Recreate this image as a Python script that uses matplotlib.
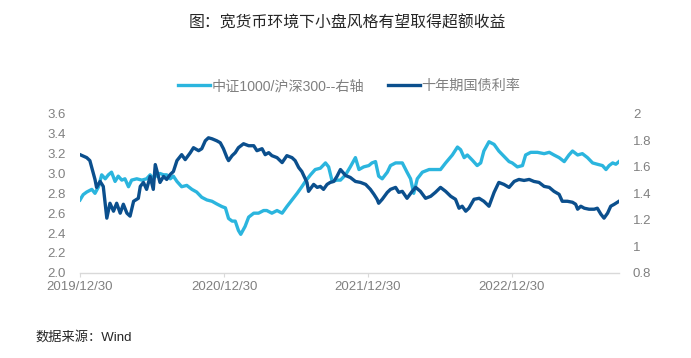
import pandas as pd
import matplotlib
matplotlib.use("Agg")
import matplotlib.pyplot as plt

plt.rcParams['font.family'] = ['Liberation Sans', 'Noto Sans CJK SC', 'DejaVu Sans']

# 十年期国债利率 (left axis, %)
bond_dates = [
    "2019-12-30", "2020-01-16", "2020-01-24", "2020-02-06", "2020-02-10", "2020-02-19",
    "2020-02-27", "2020-03-07", "2020-03-15", "2020-03-24", "2020-04-01", "2020-04-10",
    "2020-04-18", "2020-04-27", "2020-05-05", "2020-05-14", "2020-05-26", "2020-05-31",
    "2020-06-08", "2020-06-16", "2020-06-25", "2020-07-03", "2020-07-08", "2020-07-20",
    "2020-07-29", "2020-08-06", "2020-08-15", "2020-08-23", "2020-09-01", "2020-09-13",
    "2020-09-22", "2020-10-05", "2020-10-13", "2020-10-26", "2020-11-03", "2020-11-12",
    "2020-11-20", "2020-11-29", "2020-12-11", "2020-12-20", "2020-12-28", "2021-01-06",
    "2021-01-10", "2021-01-19", "2021-01-27", "2021-02-04", "2021-02-17", "2021-03-02",
    "2021-03-15", "2021-03-23", "2021-04-05", "2021-04-13", "2021-04-22", "2021-04-30",
    "2021-05-13", "2021-05-26", "2021-06-07", "2021-06-20", "2021-06-28", "2021-07-07",
    "2021-07-15", "2021-07-28", "2021-08-01", "2021-08-14", "2021-08-23", "2021-08-31",
    "2021-09-08", "2021-09-17", "2021-09-25", "2021-10-04", "2021-10-12", "2021-10-21",
    "2021-11-03", "2021-11-15", "2021-11-28", "2021-12-11", "2021-12-24", "2022-01-05",
    "2022-01-14", "2022-01-22", "2022-01-26", "2022-02-04", "2022-02-17", "2022-02-25",
    "2022-03-10", "2022-03-18", "2022-03-27", "2022-04-08", "2022-04-21", "2022-04-30",
    "2022-05-12", "2022-05-25", "2022-06-07", "2022-06-19", "2022-07-02", "2022-07-15",
    "2022-07-28", "2022-08-09", "2022-08-18", "2022-08-26", "2022-09-04", "2022-09-12",
    "2022-09-25", "2022-10-08", "2022-10-20", "2022-11-02", "2022-11-15", "2022-11-27",
    "2022-12-10", "2022-12-23", "2023-01-05", "2023-01-17", "2023-01-30", "2023-02-12",
    "2023-02-24", "2023-03-09", "2023-03-22", "2023-04-04", "2023-04-16", "2023-04-29",
    "2023-05-07", "2023-05-20", "2023-06-02", "2023-06-10", "2023-06-15", "2023-06-23",
    "2023-07-02", "2023-07-14", "2023-07-27", "2023-08-04", "2023-08-13", "2023-08-21",
    "2023-08-30", "2023-09-07", "2023-09-16", "2023-09-28",
]
bond_yield = [
    3.19, 3.16, 3.13, 2.94, 2.86, 2.92,
    2.87, 2.55, 2.70, 2.62, 2.70, 2.60,
    2.69, 2.60, 2.57, 2.72, 2.75, 2.87,
    2.91, 2.84, 2.97, 2.84, 3.09, 2.91,
    2.97, 2.94, 2.99, 3.02, 3.13, 3.19,
    3.14, 3.21, 3.26, 3.23, 3.25, 3.33,
    3.36, 3.35, 3.33, 3.31, 3.25, 3.16,
    3.13, 3.18, 3.21, 3.26, 3.30, 3.28,
    3.28, 3.23, 3.25, 3.19, 3.21, 3.18,
    3.16, 3.11, 3.18, 3.16, 3.13, 3.06,
    3.02, 2.91, 2.82, 2.89, 2.86, 2.87,
    2.84, 2.89, 2.91, 2.92, 2.97, 3.04,
    2.98, 2.96, 2.92, 2.91, 2.89, 2.84,
    2.79, 2.74, 2.70, 2.74, 2.81, 2.84,
    2.86, 2.81, 2.82, 2.75, 2.82, 2.86,
    2.82, 2.75, 2.77, 2.81, 2.86, 2.82,
    2.77, 2.74, 2.65, 2.67, 2.62, 2.65,
    2.74, 2.75, 2.72, 2.67, 2.81, 2.91,
    2.89, 2.86, 2.92, 2.94, 2.93, 2.94,
    2.92, 2.91, 2.87, 2.86, 2.82, 2.79,
    2.72, 2.72, 2.71, 2.69, 2.64, 2.67,
    2.65, 2.64, 2.64, 2.65, 2.59, 2.55,
    2.60, 2.67, 2.69, 2.72,
]

# 中证1000/沪深300 (right axis)
ratio_dates = [
    "2019-12-30", "2020-01-07", "2020-01-16", "2020-01-29", "2020-02-06", "2020-02-15",
    "2020-02-23", "2020-03-03", "2020-03-11", "2020-03-19", "2020-03-28", "2020-04-05",
    "2020-04-14", "2020-04-22", "2020-05-01", "2020-05-09", "2020-05-22", "2020-06-04",
    "2020-06-16", "2020-06-25", "2020-07-03", "2020-07-12", "2020-07-20", "2020-07-29",
    "2020-08-06", "2020-08-15", "2020-08-23", "2020-09-01", "2020-09-13", "2020-09-26",
    "2020-10-09", "2020-10-21", "2020-11-03", "2020-11-16", "2020-11-29", "2020-12-11",
    "2020-12-24", "2021-01-02", "2021-01-10", "2021-01-19", "2021-01-27", "2021-02-04",
    "2021-02-10", "2021-02-21", "2021-03-02", "2021-03-15", "2021-03-27", "2021-04-09",
    "2021-04-17", "2021-04-30", "2021-05-13", "2021-05-26", "2021-06-07", "2021-06-20",
    "2021-07-03", "2021-07-15", "2021-07-24", "2021-08-06", "2021-08-18", "2021-08-31",
    "2021-09-13", "2021-09-21", "2021-09-30", "2021-10-12", "2021-10-21", "2021-11-03",
    "2021-11-15", "2021-11-28", "2021-12-07", "2021-12-19", "2022-01-01", "2022-01-09",
    "2022-01-18", "2022-01-26", "2022-02-04", "2022-02-17", "2022-02-25", "2022-03-10",
    "2022-03-27", "2022-04-08", "2022-04-17", "2022-04-25", "2022-05-04", "2022-05-17",
    "2022-06-03", "2022-06-19", "2022-07-02", "2022-07-15", "2022-08-01", "2022-08-14",
    "2022-08-22", "2022-08-31", "2022-09-08", "2022-09-21", "2022-10-03", "2022-10-12",
    "2022-10-20", "2022-11-02", "2022-11-15", "2022-11-27", "2022-12-10", "2022-12-23",
    "2022-12-31", "2023-01-13", "2023-01-26", "2023-02-03", "2023-02-16", "2023-03-05",
    "2023-03-22", "2023-04-04", "2023-04-16", "2023-04-29", "2023-05-12", "2023-05-24",
    "2023-06-02", "2023-06-15", "2023-06-27", "2023-07-10", "2023-07-23", "2023-08-04",
    "2023-08-17", "2023-08-26", "2023-09-03", "2023-09-12", "2023-09-20", "2023-09-28",
]
ratio = [
    1.35, 1.39, 1.41, 1.43, 1.40, 1.45,
    1.54, 1.51, 1.54, 1.56, 1.49, 1.53,
    1.50, 1.51, 1.45, 1.50, 1.51, 1.50,
    1.51, 1.54, 1.51, 1.54, 1.55, 1.54,
    1.54, 1.51, 1.53, 1.49, 1.45, 1.46,
    1.43, 1.41, 1.37, 1.35, 1.34, 1.32,
    1.30, 1.29, 1.21, 1.19, 1.19, 1.12,
    1.09, 1.15, 1.22, 1.25, 1.25, 1.27,
    1.27, 1.25, 1.27, 1.25, 1.30, 1.35,
    1.40, 1.45, 1.49, 1.54, 1.58, 1.59,
    1.63, 1.60, 1.49, 1.50, 1.50, 1.54,
    1.60, 1.67, 1.58, 1.60, 1.61, 1.63,
    1.64, 1.53, 1.51, 1.56, 1.61, 1.63,
    1.63, 1.56, 1.51, 1.40, 1.51, 1.56,
    1.58, 1.58, 1.58, 1.63, 1.69, 1.75,
    1.73, 1.67, 1.69, 1.65, 1.61, 1.63,
    1.72, 1.79, 1.77, 1.72, 1.68, 1.64,
    1.63, 1.60, 1.61, 1.69, 1.71, 1.71,
    1.70, 1.71, 1.69, 1.67, 1.64, 1.69,
    1.72, 1.69, 1.70, 1.67, 1.63, 1.62,
    1.61, 1.58, 1.61, 1.63, 1.62, 1.64,
]

xtick_labels = ["2019/12/30", "2020/12/30", "2021/12/30", "2022/12/30"]

light_blue = "#2bb5de"
dark_blue = "#0b4f8d"
grey = "#808080"

bond_x = pd.to_datetime(bond_dates)
ratio_x = pd.to_datetime(ratio_dates)

fig = plt.figure(figsize=(6.91, 3.58), dpi=100)
ax = fig.add_axes([0.1158, 0.2383, 0.78, 0.4433])
ax2 = ax.twinx()

l2, = ax2.plot(ratio_x, ratio, color=light_blue, lw=2.4, label="中证1000/沪深300--右轴")
l1, = ax.plot(bond_x, bond_yield, color=dark_blue, lw=2.4, label="十年期国债利率")
# dark line drawn above the light one
ax.set_zorder(ax2.get_zorder() + 1)
ax.patch.set_visible(False)

ax.set_ylim(2.0, 3.6)
ax.set_yticks([2.0, 2.2, 2.4, 2.6, 2.8, 3.0, 3.2, 3.4, 3.6])
ax.set_yticklabels(["%.1f" % v for v in ax.get_yticks()])
ax2.set_ylim(0.8, 2.0)
ax2.set_yticks([0.8, 1.0, 1.2, 1.4, 1.6, 1.8, 2.0])
ax2.set_yticklabels(["0.8", "1", "1.2", "1.4", "1.6", "1.8", "2"])

ax.set_xlim(bond_x[0], bond_x[-1])
ax.set_xticks(pd.to_datetime([s.replace("/", "-") for s in xtick_labels]))
ax.set_xticklabels(xtick_labels)

for a in (ax, ax2):
    for s in ("top", "left", "right"):
        a.spines[s].set_visible(False)
    a.spines["bottom"].set_color("#d9d9d9")
    a.spines["bottom"].set_linewidth(1.0)
    a.tick_params(axis="y", length=0, labelsize=9.5, labelcolor=grey)
ax2.spines["bottom"].set_visible(False)
ax.tick_params(axis="x", length=3, color="#d9d9d9", labelsize=9.5, labelcolor=grey, pad=3)
ax.tick_params(axis="y", pad=10)
ax2.tick_params(axis="y", pad=10)

fig.text(0.503, 1 - 23 / 358, "图：宽货币环境下小盘风格有望取得超额收益", ha="center", va="center",
         fontsize=11.4, color="#262626")
fig.legend(handles=[l2, l1], loc="center", bbox_to_anchor=(349.5 / 691, 1 - 86 / 358), ncol=2,
           frameon=False, fontsize=10.2, labelcolor=grey, handlelength=2.2,
           handletextpad=0.15, columnspacing=1.7)
fig.text(35 / 691, 1 - 337 / 358, "数据来源：Wind", ha="left", va="center",
         fontsize=9.5, color="#262626")

fig.savefig("out.png", dpi=100)
